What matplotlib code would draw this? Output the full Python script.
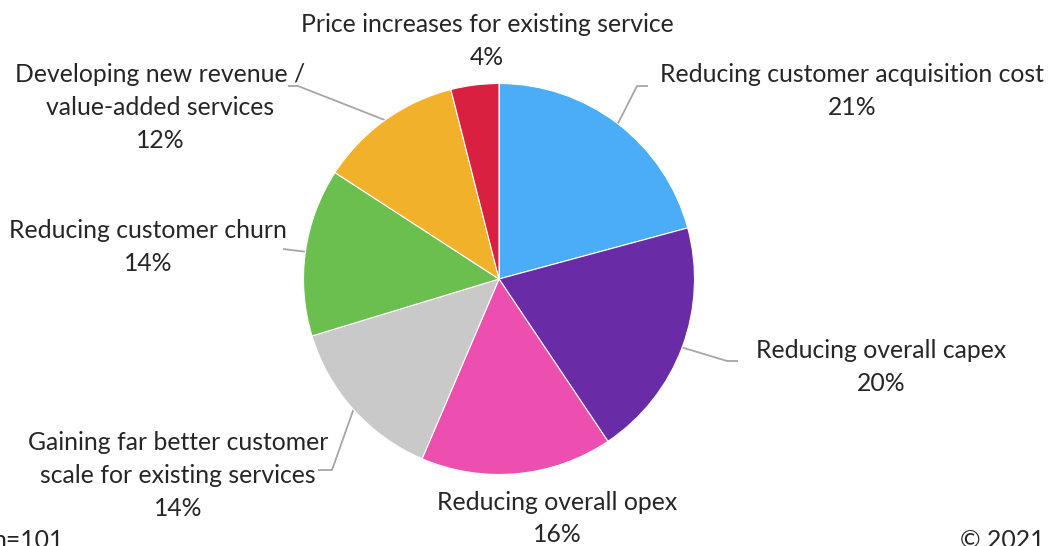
import numpy as np
import matplotlib
matplotlib.use("Agg")
import matplotlib.pyplot as plt

# Survey results: share of respondents per priority
categories = [
    "Reducing customer acquisition cost",
    "Reducing overall capex",
    "Reducing overall opex",
    "Gaining far better customer\nscale for existing services",
    "Reducing customer churn",
    "Developing new revenue /\nvalue-added services",
    "Price increases for existing service",
]
values = [21, 20, 16, 14, 14, 12, 4]
colors = ["#4BADF7", "#6A2BA7", "#EC4FB0", "#C9C9C9", "#6BBF4E", "#F2B12B", "#D92040"]

sample_note = "n=101"
copyright_note = "\u00a9 2021"

W, H = 1049, 546
fig = plt.figure(figsize=(W / 100, H / 100), dpi=100)
ax = fig.add_axes([0, 0, 1, 1])

FONT = "Lato"
FS = 17.8
TXT = "#262626"
LEAD = "#a6a6a6"

cx, cy, r = 499, H - 279, 195.5
wedges, _ = ax.pie(values, colors=colors, startangle=90, counterclock=False,
                   radius=r, center=(cx, cy),
                   wedgeprops=dict(edgecolor="white", linewidth=0.8))
ax.set_xlim(0, W)
ax.set_ylim(0, H)
ax.set_aspect("equal")
ax.axis("off")

# label text centres (x, y of first line, top-down pixel layout)
label_pos = [
    (852, 75),
    (881, 351),
    (557, 502),
    (178, 443),
    (148, 231),
    (160, 75),
    (487, 25),
]
line_h = 32.5

# leader lines: elbow point and end point near the label (None = no leader)
leaders = [
    ((637, 86), (648, 86)),
    ((727, 361), (738, 361)),
    None,
    ((332, 470), (318, 470)),
    ((283, 249), (283, 249)),
    ((298, 86), (288, 86)),
    None,
]

total = sum(values)
start = 90.0
for val, name, pos, lead in zip(values, categories, label_pos, leaders):
    span = val / total * 360.0
    mid = np.deg2rad(start - span / 2)
    start -= span
    lines = name.split("\n") + [f"{val}%"]
    x0, y0 = pos
    for i, ln in enumerate(lines):
        ax.text(x0, H - (y0 + i * line_h), ln, ha="center", va="center",
                fontsize=FS, family=FONT, color=TXT)
    if lead is not None:
        px, py = cx + r * np.cos(mid), cy + r * np.sin(mid)
        (ex, ey), (fx, fy) = lead
        ax.plot([px, ex, fx], [py, H - ey, H - fy], color=LEAD, lw=1.3,
                solid_capstyle="butt", zorder=0.5)

ax.text(64, H - 541, sample_note, ha="right", va="center", fontsize=FS,
        family=FONT, color=TXT)
ax.text(1044, H - 541, copyright_note, ha="right", va="center", fontsize=FS,
        family=FONT, color=TXT)

fig.savefig("out.png", dpi=100)
